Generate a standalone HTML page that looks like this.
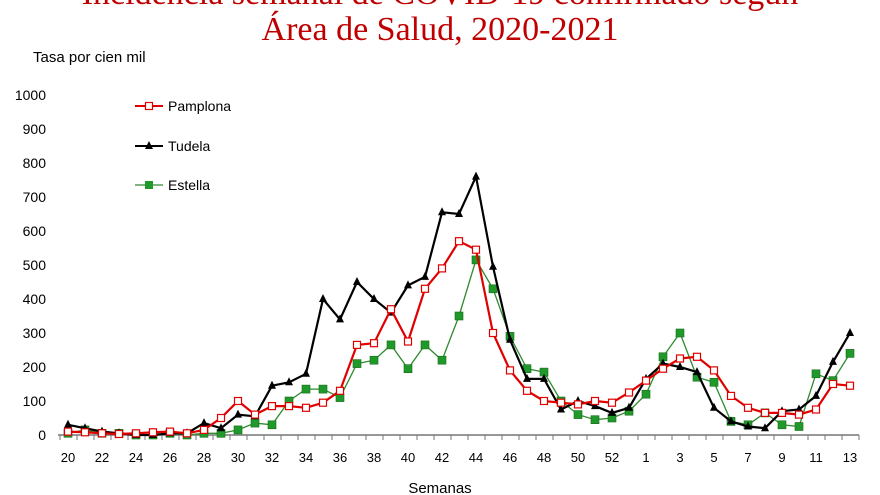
<!DOCTYPE html>
<html><head><meta charset="utf-8"><style>
body{margin:0;background:#fff;width:880px;height:495px;overflow:hidden}
svg{display:block}
</style></head><body>
<svg id="c" width="880" height="495" xmlns="http://www.w3.org/2000/svg" font-family="Liberation Sans, sans-serif">
<text x="440" y="4" text-anchor="middle" font-family="Liberation Serif, serif" font-size="34" fill="#c00000">Incidencia semanal de COVID-19 confirmado según</text>
<text x="440" y="40" text-anchor="middle" font-family="Liberation Serif, serif" font-size="34" fill="#c00000">Área de Salud, 2020-2021</text>
<text x="33" y="62" font-size="15" fill="#000">Tasa por cien mil</text>
<text x="440" y="493" text-anchor="middle" font-size="15" fill="#000">Semanas</text>
<g id="g"></g>
</svg>
<script>
var ns="http://www.w3.org/2000/svg",g=document.getElementById('g');
function el(t,a,txt){var e=document.createElementNS(ns,t);for(var k in a)e.setAttribute(k,a[k]);if(txt!=null)e.textContent=txt;g.appendChild(e);return e;}
function Y(v){return 435-v*0.34;}
function X(i){return 68+i*17;}
for(var v=0;v<=1000;v+=100){el('text',{x:46,y:Y(v)+5,'text-anchor':'end','font-size':14},v);}
el('line',{x1:58,y1:435,x2:859,y2:435,stroke:'#777','stroke-width':1.5});
var weeks=[];for(var w=20;w<=53;w++)weeks.push(w);for(w=1;w<=13;w++)weeks.push(w);
for(var i=0;i<=47;i++){el('line',{x1:60+i*17,y1:435,x2:60+i*17,y2:440,stroke:'#777'});}
for(i=0;i<weeks.length;i+=2){el('text',{x:X(i),y:462,'text-anchor':'middle','font-size':13},weeks[i]);}
var P=[10,8,5,3,5,8,10,5,15,50,100,60,85,85,80,95,130,265,270,370,275,430,490,570,545,300,190,130,100,95,90,100,95,125,160,195,225,230,190,115,80,65,65,60,75,150,145];
var T=[30,20,10,5,0,0,5,5,35,20,60,55,145,155,180,400,340,450,400,360,440,465,655,650,760,495,280,165,165,75,100,85,65,80,165,210,200,185,80,40,25,20,70,75,115,215,300];
var E=[5,15,5,5,0,0,5,0,5,5,15,35,30,100,135,135,110,210,220,265,195,265,220,350,515,430,290,195,185,100,60,45,50,70,120,230,300,170,155,40,30,65,30,25,180,160,240];
function pts(a){return a.map(function(v,i){return X(i)+','+Y(v)}).join(' ');}
el('polyline',{points:pts(E),fill:'none',stroke:'#2e8b2e','stroke-width':1.3});
E.forEach(function(v,i){el('rect',{x:X(i)-4,y:Y(v)-4,width:8,height:8,fill:'#1f9a2a',stroke:'#1a6a1a','stroke-width':0.6});});
el('polyline',{points:pts(T),fill:'none',stroke:'#000','stroke-width':2.2});
T.forEach(function(v,i){var x=X(i),y=Y(v);el('polygon',{points:(x-4)+','+(y+3)+' '+(x+4)+','+(y+3)+' '+x+','+(y-5),fill:'#000'});});
el('polyline',{points:pts(P),fill:'none',stroke:'#e00000','stroke-width':2.2});
P.forEach(function(v,i){el('rect',{x:X(i)-3.5,y:Y(v)-3.5,width:7,height:7,fill:'#fff',stroke:'#e00000','stroke-width':1.2});});
el('line',{x1:135,y1:106,x2:163,y2:106,stroke:'#e00000','stroke-width':2});
el('rect',{x:145.5,y:102.5,width:7,height:7,fill:'#fff',stroke:'#e00000','stroke-width':1.2});
el('text',{x:168,y:111,'font-size':14},'Pamplona');
el('line',{x1:135,y1:146,x2:163,y2:146,stroke:'#000','stroke-width':2});
el('polygon',{points:'145,149 153,149 149,141',fill:'#000'});
el('text',{x:168,y:151,'font-size':14},'Tudela');
el('line',{x1:135,y1:185,x2:163,y2:185,stroke:'#2e8b2e','stroke-width':1.3});
el('rect',{x:145,y:181,width:8,height:8,fill:'#1f9a2a'});
el('text',{x:168,y:190,'font-size':14},'Estella');
</script>
</body></html>
